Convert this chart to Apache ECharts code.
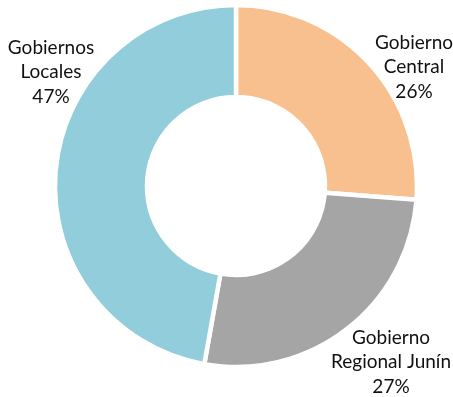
<!DOCTYPE html>
<html>
<head>
<meta charset="utf-8">
<script src="https://cdn.jsdelivr.net/npm/echarts@6/dist/echarts.min.js"></script>
<style>
html,body{margin:0;padding:0;background:#fff;}
#chart{width:453px;height:397px;}
</style>
</head>
<body>
<div id="chart"></div>
<script>
const categories = ['Gobierno\nCentral', 'Gobierno\nRegional Junín', 'Gobiernos\nLocales'];
const values = [26.2, 26.6, 47.2];
const colors = ['#F9C08F', '#A5A5A5', '#92CDDC'];

const labelPos = [
  {x: 414, y: 67},
  {x: 391, y: 362},
  {x: 51, y: 72}
];

const chart = echarts.init(document.getElementById('chart'), null, {renderer: 'canvas'});
chart.setOption({
  animation: false,
  series: [{
    type: 'pie',
    center: [236, 186],
    radius: [89, 181],
    startAngle: 90,
    clockwise: true,
    avoidLabelOverlap: false,
    itemStyle: {borderColor: '#ffffff', borderWidth: 4.5},
    label: {
      show: true,
      position: 'outside',
      formatter: p => p.name + '\n' + Math.round(p.percent) + '%',
      fontFamily: 'Lato',
      fontSize: 19,
      lineHeight: 24.5,
      color: '#111111',
      align: 'center'
    },
    labelLine: {show: false},
    labelLayout: function (params) {
      const p = labelPos[params.dataIndex];
      return {x: p.x, y: p.y, align: 'center', verticalAlign: 'middle'};
    },
    data: categories.map((c, i) => ({name: c, value: values[i], itemStyle: {color: colors[i]}}))
  }]
});
</script>
</body>
</html>
